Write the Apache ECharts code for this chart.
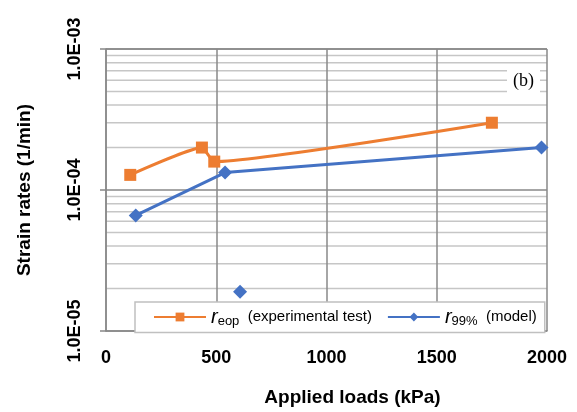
<!DOCTYPE html>
<html>
<head>
<meta charset="utf-8">
<script src="https://cdn.jsdelivr.net/npm/echarts@6/dist/echarts.min.js"></script>
<style>html,body{margin:0;padding:0;background:#fff}#c{width:577px;height:412px}</style>
</head>
<body>
<div id="c"></div>
<script>
// ---- data ----
const eopLoads = [110, 435, 491, 1750];
const eopRates = [1.28e-4, 2.0e-4, 1.59e-4, 3.0e-4];
const modelLoads = [135, 540, 1975];
const modelRates = [6.6e-5, 1.33e-4, 2.0e-4];
const outlierLoads = [608];
const outlierRates = [1.9e-5];
const xTicks = [0, 500, 1000, 1500, 2000];
const yDecades = [1e-5, 1e-4, 1e-3];
const minorGrid = [2e-5,3e-5,4e-5,5e-5,6e-5,7e-5,8e-5,9e-5,2e-4,3e-4,4e-4,5e-4,6e-4,7e-4,8e-4,9e-4];

const ORANGE = '#ED7D31', BLUE = '#4472C4';
const FONT = '"Liberation Sans", Arial, sans-serif';
const X_MIN = xTicks[0], X_MAX = xTicks[xTicks.length - 1];

function fmtE(v){
  const e = Math.round(Math.log10(v));
  return '1.0E' + (e < 0 ? '-' : '+') + String(Math.abs(e)).padStart(2, '0');
}

// light minor gridlines (at 2..9 x 10^n), drawn through the axes
const minorSeries = minorGrid.map(v => ({
  name: 'minor', type: 'line', silent: true, z: 1,
  data: [[X_MIN, v], [X_MAX, v]],
  symbol: 'none', showSymbol: false,
  lineStyle: {color: '#c6c6c6', width: 1.5},
  emphasis: {disabled: true}, tooltip: {show: false}
}));

const chart = echarts.init(document.getElementById('c'), null, {renderer: 'canvas'});
chart.setOption({
  animation: false,
  backgroundColor: '#fff',
  grid: {left: 106, right: 30, top: 49, bottom: 79, containLabel: false},
  xAxis: {
    type: 'value', min: X_MIN, max: X_MAX, interval: 500, z: 2,
    name: 'Applied loads (kPa)', nameLocation: 'middle', nameGap: 57,
    nameTextStyle: {fontFamily: FONT, fontWeight: 'bold', fontSize: 19, color: '#000', padding: [0, 0, 0, 52]},
    axisLine: {show: true, lineStyle: {color: '#888', width: 1.5}},
    axisTick: {show: false},
    axisLabel: {fontFamily: FONT, fontWeight: 'bold', fontSize: 18, color: '#000', margin: 18,
      formatter: v => String(v)},
    splitLine: {show: true, lineStyle: {color: '#888', width: 1.5}}
  },
  yAxis: {
    type: 'log', logBase: 10, min: yDecades[0], max: yDecades[yDecades.length - 1], z: 2,
    name: 'Strain rates (1/min)', nameLocation: 'middle', nameGap: 72, nameRotate: 90,
    nameTextStyle: {fontFamily: FONT, fontWeight: 'bold', fontSize: 19, color: '#000'},
    axisLine: {show: true, lineStyle: {color: '#888', width: 1.5}},
    axisTick: {show: true, inside: false, length: 6, lineStyle: {color: '#888', width: 1.5}},
    axisLabel: {fontFamily: FONT, fontWeight: 'bold', fontSize: 18, color: '#000', rotate: 90, margin: 22, formatter: fmtE},
    splitLine: {show: true, lineStyle: {color: '#888', width: 1.5}}
  },
  legend: {
    data: ['reop', 'r99'],
    left: 135, top: 302, orient: 'horizontal',
    backgroundColor: '#fff', borderColor: '#c0c0c0', borderWidth: 1.5,
    padding: [5, 8, 5, 18], itemGap: 15, itemWidth: 52, itemHeight: 11,
    textStyle: {fontFamily: FONT, fontSize: 15, color: '#000',
      rich: {
        i: {fontFamily: FONT, fontSize: 20, fontStyle: 'italic', color: '#000'},
        s: {fontFamily: FONT, fontSize: 13, color: '#000', padding: [8, 0, 0, 0]},
        t: {fontFamily: FONT, fontSize: 15, color: '#000'}
      }
    },
    formatter: function(name){
      if (name === 'reop') return '{i|r}{s|eop}{t|  (experimental test)}';
      return '{i|r}{s|99%}{t|  (model)}';
    }
  },
  graphic: [{
    type: 'text', left: 507, top: 66, z: 50,
    style: {text: '(b)', font: '18px "Liberation Serif", "Times New Roman", serif', fill: '#000',
      backgroundColor: '#fff', padding: [6, 6, 6, 6]}
  }],
  series: minorSeries.concat([
    {
      name: 'reop', type: 'line', smooth: 0.15, z: 3,
      data: eopLoads.map((x, i) => [x, eopRates[i]]),
      symbol: 'rect', symbolSize: 12,
      lineStyle: {color: ORANGE, width: 3},
      itemStyle: {color: ORANGE}
    },
    {
      name: 'r99', type: 'line', z: 3,
      data: modelLoads.map((x, i) => [x, modelRates[i]]),
      symbol: 'diamond', symbolSize: 14,
      lineStyle: {color: BLUE, width: 3},
      itemStyle: {color: BLUE}
    },
    {
      name: 'r99 outlier', type: 'scatter', z: 3,
      data: outlierLoads.map((x, i) => [x, outlierRates[i]]),
      symbol: 'diamond', symbolSize: 14,
      itemStyle: {color: BLUE, opacity: 1}
    }
  ])
});
</script>
</body>
</html>
